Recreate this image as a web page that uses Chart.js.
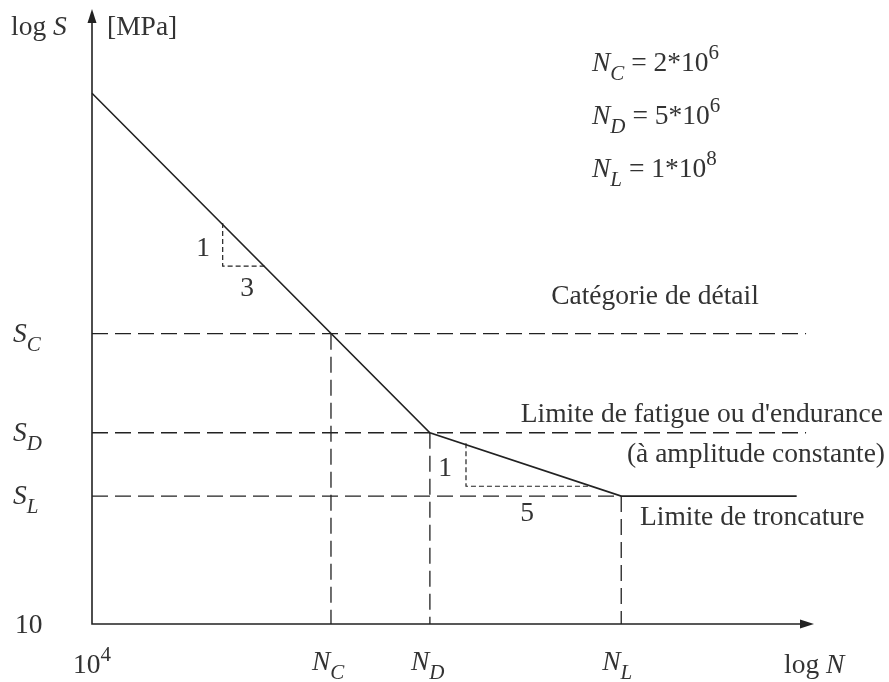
<!DOCTYPE html>
<html>
<head>
<meta charset="utf-8">
<script src="https://cdn.jsdelivr.net/npm/chart.js@4"></script>
<style>
  body { margin: 0; background: #fff; }
  #wrap { width: 889px; height: 682px; }
</style>
</head>
<body>
<div id="wrap"><canvas id="snChart"></canvas></div>
<script>
// schematic units: log N on x (0 = 10^4), log S on y (0 = 10)
const levelNames = ['C', 'D', 'L'];
const levelN = [3.31, 4.68, 7.33];      // N_C, N_D, N_L
const levelS = [4.72, 3.11, 2.08];      // S_C, S_D, S_L
const dashEnd = [9.89, 9.89, 7.33];     // where the horizontal dashed lines stop
const nMant = ['2', '5', '1'];
const nExp = ['6', '6', '8'];

// the S-N curve itself
const curveX = [0, 4.68, 7.33, 9.76];
const curveY = [8.63, 3.11, 2.08, 2.08];

// slope triangles (1:3 and 1:5)
const tri1X = [1.81, 1.81, 2.40];
const tri1Y = [6.52, 5.82, 5.82];
const tri2X = [5.18, 5.18, 6.90];
const tri2Y = [2.94, 2.24, 2.24];

const ink = '#222';
const txt = '#333';
const serif = '"Liberation Serif", "DejaVu Serif", serif';
const big = 27.5, small = 21;

function pts(xs, ys) {
    return xs.map((x, i) => ({ x: x, y: ys[i] }));
}

function line(data, width, dash) {
    return {
        data: data, showLine: true, borderColor: ink, borderWidth: width,
        borderDash: dash, pointRadius: 0, clip: false, fill: false
    };
}

const datasets = [line(pts(curveX, curveY), 1.6, [])];
levelS.forEach((s, i) => {
    datasets.push(line([{ x: 0, y: s }, { x: dashEnd[i], y: s }], 1.3, [16, 7]));
    datasets.push(line([{ x: levelN[i], y: s }, { x: levelN[i], y: 0 }], 1.3, [16, 7]));
});
datasets.push(line(pts(tri1X, tri1Y), 1.2, [5, 3]));
datasets.push(line(pts(tri2X, tri2Y), 1.2, [5, 3]));

// text made of pieces: r = regular, i = italic, sub = italic subscript, sup = superscript
function rich(ctx, x, y, parts, align) {
    const fonts = {
        r: big + 'px ' + serif, i: 'italic ' + big + 'px ' + serif,
        sub: 'italic ' + small + 'px ' + serif, sup: small + 'px ' + serif
    };
    const dy = { r: 0, i: 0, sub: 9, sup: -12 };
    let w = 0;
    parts.forEach(p => { ctx.font = fonts[p[1]]; w += ctx.measureText(p[0]).width; });
    let cx = x;
    if (align === 'right') cx = x - w;
    if (align === 'center') cx = x - w / 2;
    parts.forEach(p => {
        ctx.font = fonts[p[1]];
        ctx.fillText(p[0], cx, y + dy[p[1]]);
        cx += ctx.measureText(p[0]).width;
    });
}

const decor = {
    id: 'decor',
    afterDatasetsDraw(chart) {
        const ctx = chart.ctx;
        const a = chart.chartArea;
        const xs = chart.scales.x, ys = chart.scales.y;
        ctx.save();
        // axes with arrows
        ctx.strokeStyle = ink;
        ctx.fillStyle = ink;
        ctx.lineWidth = 1.6;
        ctx.setLineDash([]);
        ctx.beginPath();
        ctx.moveTo(a.left, a.top + 8);
        ctx.lineTo(a.left, a.bottom);
        ctx.lineTo(a.right - 8, a.bottom);
        ctx.stroke();
        ctx.beginPath();
        ctx.moveTo(a.left, a.top);
        ctx.lineTo(a.left - 4.5, a.top + 14);
        ctx.lineTo(a.left + 4.5, a.top + 14);
        ctx.closePath();
        ctx.fill();
        ctx.beginPath();
        ctx.moveTo(a.right, a.bottom);
        ctx.lineTo(a.right - 14, a.bottom - 4.5);
        ctx.lineTo(a.right - 14, a.bottom + 4.5);
        ctx.closePath();
        ctx.fill();

        ctx.fillStyle = txt;
        ctx.textBaseline = 'alphabetic';
        rich(ctx, 11, 35, [['log ', 'r'], ['S', 'i']]);
        rich(ctx, 107, 35, [['[MPa]', 'r']]);
        rich(ctx, 15, a.bottom + 9, [['10', 'r']]);
        rich(ctx, 73, 673, [['10', 'r'], ['4', 'sup']]);
        rich(ctx, 784, 673, [['log ', 'r'], ['N', 'i']]);

        levelNames.forEach((n, i) => {
            rich(ctx, 13, ys.getPixelForValue(levelS[i]) + 8, [['S', 'i'], [n, 'sub']]);
            rich(ctx, xs.getPixelForValue(levelN[i]) - 19, 670, [['N', 'i'], [n, 'sub']]);
            rich(ctx, 592, 71 + i * 53,
                [['N', 'i'], [n, 'sub'], [' = ' + nMant[i] + '*10', 'r'], [nExp[i], 'sup']]);
        });

        rich(ctx, 203, 256, [['1', 'r']], 'center');
        rich(ctx, 247, 296, [['3', 'r']], 'center');
        rich(ctx, 445, 476, [['1', 'r']], 'center');
        rich(ctx, 527, 521, [['5', 'r']], 'center');

        rich(ctx, 655, 304, [['Catégorie de détail', 'r']], 'center');
        rich(ctx, 883, 422, [["Limite de fatigue ou d'endurance", 'r']], 'right');
        rich(ctx, 885, 462, [['(à amplitude constante)', 'r']], 'right');
        rich(ctx, 640, 525, [['Limite de troncature', 'r']]);
        ctx.restore();
    }
};

new Chart(document.getElementById('snChart'), {
    type: 'scatter',
    data: { datasets: datasets },
    options: {
        responsive: true,
        maintainAspectRatio: false,
        animation: false,
        layout: { padding: { left: 92, right: 75, top: 9, bottom: 58 } },
        plugins: { legend: { display: false }, tooltip: { enabled: false } },
        scales: {
            x: { type: 'linear', min: 0, max: 10, display: false },
            y: { type: 'linear', min: 0, max: 10, display: false }
        }
    },
    plugins: [decor]
});
</script>
</body>
</html>
